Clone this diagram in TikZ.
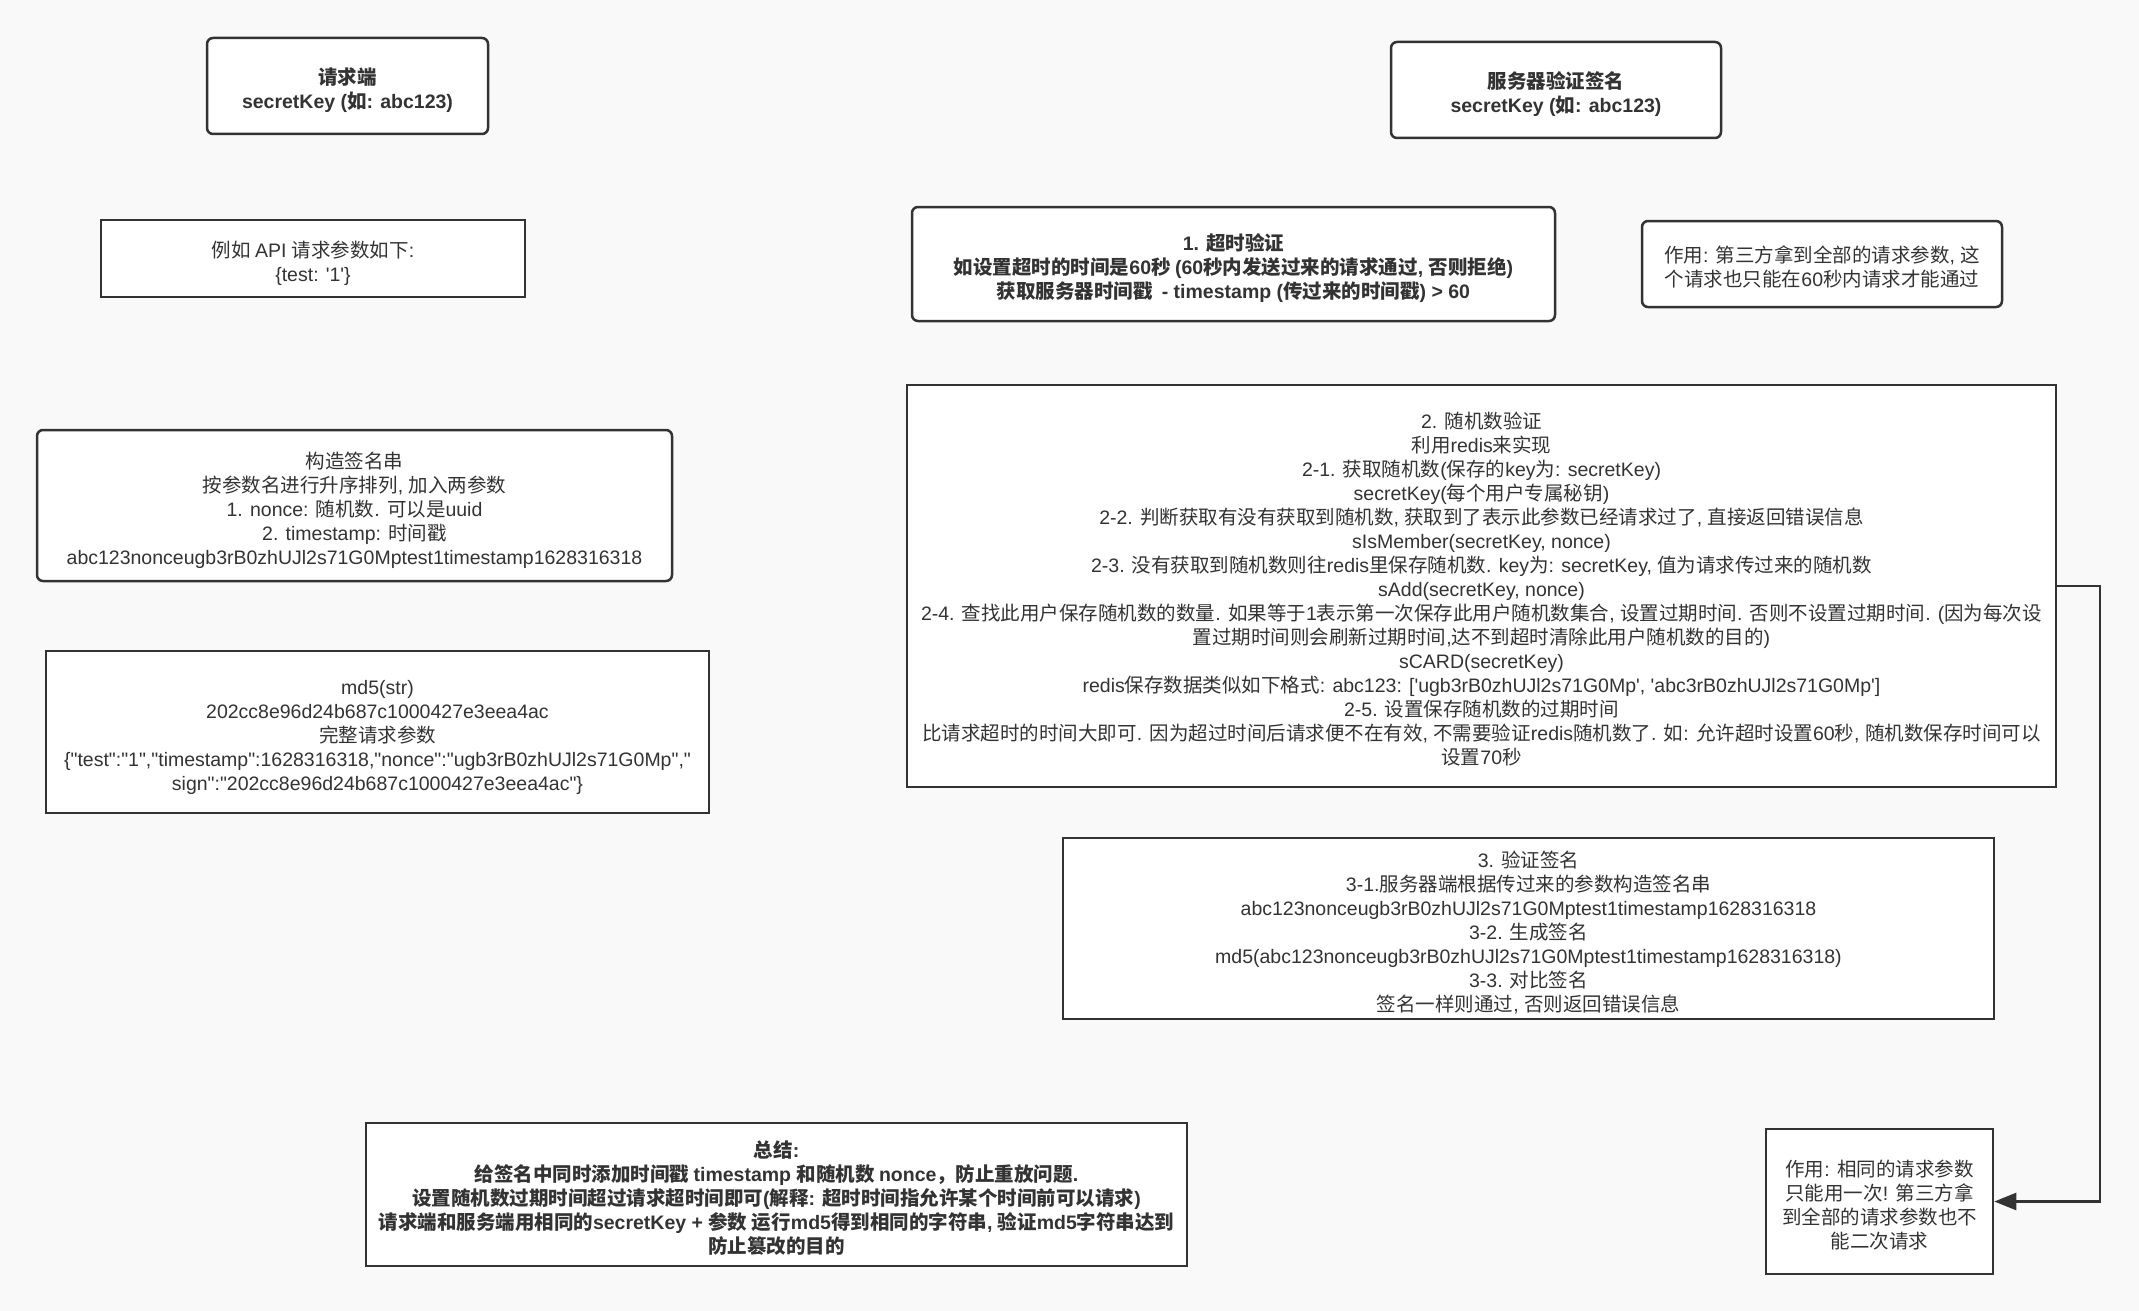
\documentclass[tikz,border=0pt]{standalone}
\usepackage{fontspec}
\usepackage{xcolor}
\usetikzlibrary{positioning, arrows.meta}
\newfontfamily\latinfont{Liberation Sans}
\newfontfamily\cjkfont{Noto Sans CJK SC}
% 中文自动切换字体
\XeTeXinterchartokenstate=1
\newXeTeXintercharclass\cjkclass
\count255="21
\loop
  \XeTeXcharclass\count255=0
  \advance\count255 by 1
\ifnum\count255<"7F \repeat
\count255="3000
\loop
  \XeTeXcharclass\count255=\cjkclass
  \advance\count255 by 1
\ifnum\count255<"A000 \repeat
\count255="FF00
\loop
  \XeTeXcharclass\count255=\cjkclass
  \advance\count255 by 1
\ifnum\count255<"FFF0 \repeat
\XeTeXinterchartoks 0 \cjkclass = {\cjkfont}
\XeTeXinterchartoks 4095 \cjkclass = {\cjkfont}
\XeTeXinterchartoks \cjkclass 0 = {\latinfont}
\XeTeXinterchartoks 4095 0 = {\latinfont}
\definecolor{inkgray}{HTML}{333333}
\definecolor{pagebg}{HTML}{F9F9F9}
\newcommand{\txtfont}{\latinfont\fontsize{19.5}{24}\selectfont}
\newcommand{\lines}[1]{\vbox{\kern12pt\hbox{\begin{tabular}{@{}c@{}}#1\end{tabular}}}}
\tikzset{
  box/.style={
    draw=inkgray, line width=2.5pt, fill=white,
    text=inkgray, inner sep=0pt, font=\txtfont
  },
  roundbox/.style={box, rounded corners=6pt},
  boldtext/.style={font=\txtfont\bfseries},
  flow/.style={draw=inkgray, line width=2.5pt, -{Triangle[length=22pt, width=17pt]}},
}

\begin{document}
\begin{tikzpicture}[x=1pt, y=-1pt]

  \fill[pagebg] (0,0) rectangle (2139,1311);

  % 请求端
  \node[roundbox, boldtext, minimum width=281pt, minimum height=96pt] (client) at (347.5,86)
    {\lines{请求端\\secretKey (如: abc123)}};
  \node[box, minimum width=424pt, minimum height=77pt] (params) at (313,258.5)
    {\lines{例如 API 请求参数如下:\\\{test: '1'\}}};
  \node[roundbox, minimum width=635pt, minimum height=151pt] (buildsign) at (354.5,505.5)
    {\lines{构造签名串\\按参数名进行升序排列, 加入两参数\\1. nonce: 随机数. 可以是uuid\\2. timestamp: 时间戳\\abc123nonceugb3rB0zhUJl2s71G0Mptest1timestamp1628316318}};
  \node[box, minimum width=663pt, minimum height=162pt] (md5sign) at (377.5,732)
    {\lines{md5(str)\\202cc8e96d24b687c1000427e3eea4ac\\完整请求参数\\\{"test":"1","timestamp":1628316318,"nonce":"ugb3rB0zhUJl2s71G0Mp","\\sign":"202cc8e96d24b687c1000427e3eea4ac"\}}};

  % 服务器验证签名
  \node[roundbox, boldtext, minimum width=330pt, minimum height=96pt] (server) at (1556,90)
    {\lines{服务器验证签名\\secretKey (如: abc123)}};
  \node[roundbox, boldtext, minimum width=643pt, minimum height=114pt] (timeout) at (1233.5,264)
    {\lines{1. 超时验证\\如设置超时的时间是60秒 (60秒内发送过来的请求通过, 否则拒绝)\\获取服务器时间戳\ \ - timestamp (传过来的时间戳) > 60}};
  \node[roundbox, minimum width=360pt, minimum height=86pt] (timeoutnote) at (1822,264)
    {\lines{作用: 第三方拿到全部的请求参数, 这\\个请求也只能在60秒内请求才能通过}};
  \node[box, minimum width=1149pt, minimum height=402pt] (nonce) at (1481.5,586)
    {\lines{2. 随机数验证\\利用redis来实现\\2-1. 获取随机数(保存的key为: secretKey)\\secretKey(每个用户专属秘钥)\\2-2. 判断获取有没有获取到随机数, 获取到了表示此参数已经请求过了, 直接返回错误信息\\sIsMember(secretKey, nonce)\\2-3. 没有获取到随机数则往redis里保存随机数. key为: secretKey, 值为请求传过来的随机数\\sAdd(secretKey, nonce)\\2-4. 查找此用户保存随机数的数量. 如果等于1表示第一次保存此用户随机数集合, 设置过期时间. 否则不设置过期时间. (因为每次设\\置过期时间则会刷新过期时间,达不到超时清除此用户随机数的目的)\\sCARD(secretKey)\\redis保存数据类似如下格式: abc123: ['ugb3rB0zhUJl2s71G0Mp', 'abc3rB0zhUJl2s71G0Mp']\\2-5. 设置保存随机数的过期时间\\比请求超时的时间大即可. 因为超过时间后请求便不在有效, 不需要验证redis随机数了. 如: 允许超时设置60秒, 随机数保存时间可以\\设置70秒}};
  \node[box, minimum width=931pt, minimum height=181pt] (verify) at (1528.5,928.5)
    {\lines{3. 验证签名\\3-1.服务器端根据传过来的参数构造签名串\\abc123nonceugb3rB0zhUJl2s71G0Mptest1timestamp1628316318\\3-2. 生成签名\\md5(abc123nonceugb3rB0zhUJl2s71G0Mptest1timestamp1628316318)\\3-3. 对比签名\\签名一样则通过, 否则返回错误信息}};
  \node[box, minimum width=227pt, minimum height=145pt] (noncenote) at (1879.5,1201.5)
    {\lines{作用: 相同的请求参数\\只能用一次! 第三方拿\\到全部的请求参数也不\\能二次请求}};

  % 总结
  \node[box, boldtext, minimum width=821pt, minimum height=143pt] (summary) at (776.5,1194.5)
    {\lines{总结:\\给签名中同时添加时间戳 timestamp 和随机数 nonce，防止重放问题.\\设置随机数过期时间超过请求超时间即可(解释: 超时时间指允许某个时间前可以请求)\\请求端和服务端用相同的secretKey + 参数 运行md5得到相同的字符串, 验证md5字符串达到\\防止篡改的目的}};

  % 随机数验证 → 作用
  \coordinate (turn) at (2100,0);
  \draw[flow] (nonce.east) -- (nonce.east -| turn) |- (noncenote.east);

\end{tikzpicture}
\end{document}
